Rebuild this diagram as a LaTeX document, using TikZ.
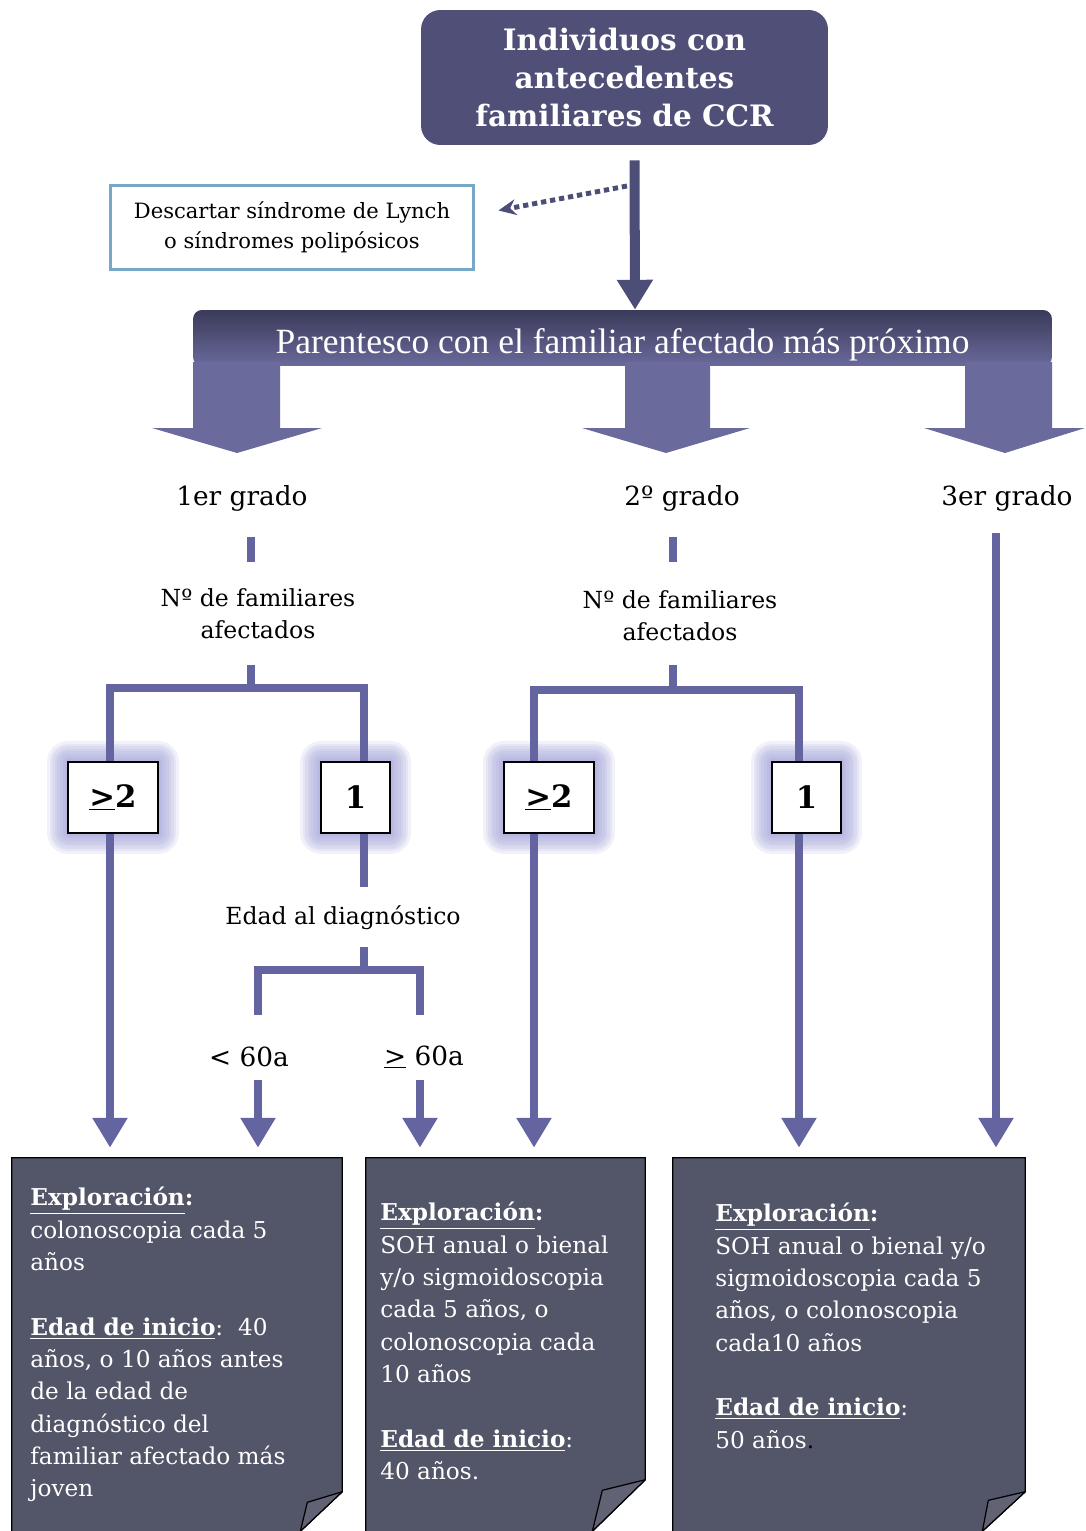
\documentclass[tikz,border=0pt]{standalone}
\usepackage{fontspec}
\setmainfont{DejaVu Serif}
\newfontfamily\bannerfont{Liberation Serif}
\usetikzlibrary{arrows.meta,calc}

\definecolor{titlec}{HTML}{4F4F77}
\definecolor{arrowc}{HTML}{4D4E78}
\definecolor{bannerdark}{HTML}{3A3A5A}
\definecolor{bannerlight}{HTML}{6A6A9C}
\definecolor{connc}{HTML}{6464A0}
\definecolor{glowc}{HTML}{9494D2}
\definecolor{rfillc}{HTML}{535568}
\definecolor{lynchc}{HTML}{78A8C8}

% folded-corner result sheet: node, fold offset from top, flap vertex, bottom offset
\newcommand\foldsheet[4]{%
  \fill[rfillc] (#1.north west) -- (#1.north east) -- ($(#1.north east)+(0,#2)$)
    -- ($(#1.south east)+(#4,0)$) -- (#1.south west) -- cycle;
  \draw[black, line width=0.7pt] (#1.south west) -- (#1.north west) -- (#1.north east)
    -- ($(#1.north east)+(0,#2)$) -- ($(#1.south east)+(#4,0)$);
  \filldraw[fill=rfillc!92!white, draw=black, line width=0.7pt, line join=round]
    ($(#1.north east)+(0,#2)$) -- ($(#1.south east)+(#3)$) -- ($(#1.south east)+(#4,0)$) -- cycle;}

\begin{document}
\begin{tikzpicture}[x=0.02cm, y=-0.02cm,
  titlebox/.style={fill=titlec, rounded corners=11pt, minimum width=8.14cm,
    minimum height=2.7cm, text=white, align=center, inner sep=0pt,
    font=\bfseries\fontsize{16.8}{21.5}\selectfont},
  lynchbox/.style={draw=lynchc, line width=1.7pt, fill=white, minimum width=7.28cm,
    minimum height=1.7cm, align=center, font=\fontsize{12}{17}\selectfont},
  bannerbox/.style={top color=bannerdark, bottom color=bannerlight, rounded corners=5pt,
    minimum width=17.18cm, minimum height=1.12cm, inner sep=0pt, text=white,
    font=\bannerfont\fontsize{20.2}{22}\selectfont},
  bigarrow/.style={fill=bannerlight},
  grado/.style={inner sep=0pt, font=\fontsize{15}{18}\selectfont},
  lbl/.style={inner sep=0pt, align=center, font=\fontsize{13.4}{18}\selectfont},
  glow/.style={preaction={draw=glowc, line width=#1, draw opacity=0.13, line join=round}},
  numbox/.style={draw=black, line width=0.6pt, fill=white, minimum height=1.42cm,
    inner sep=0pt, font=\bfseries\fontsize{17.5}{19}\selectfont,
    glow=24pt, glow=21pt, glow=18pt, glow=15pt, glow=12pt, glow=9pt, glow=6pt, glow=3pt},
  sheet/.style={draw=none, minimum height=7.46cm, inner sep=0pt},
  rtext/.style={anchor=north west, inner sep=0pt, align=left, text=white,
    font=\fontsize{13.2}{18.4}\selectfont},
  conn/.style={draw=connc, line width=5.1pt},
  arr/.style={draw=connc, line width=4.6pt, -{Triangle[width=19pt,length=17pt]},
    shorten >=5.7pt},
  mainarr/.style={draw=arrowc, line width=5.7pt, -{Triangle[width=19.5pt,length=17pt]}},
  dotarr/.style={draw=arrowc, line width=2.8pt, dash pattern=on 3pt off 2.2pt,
    -{Stealth[width=9pt,length=10pt]}}
]
\useasboundingbox (0,0) rectangle (1085,1531);

% ---- top of the chart
\node[titlebox] (top) at (624.5,77.5) {Individuos con\\antecedentes\\familiares de CCR};
\node[lynchbox] (lynch) at (292,227.5) {Descartar síndrome de Lynch\\o síndromes polipósicos};
\node[bannerbox] (banner) at (622.5,338)
  {\raisebox{-9pt}[0pt][0pt]{Parentesco con el familiar afectado más próximo}};

\draw[mainarr] ($(top.south)+(10,15)$) -- ($(banner.north)+(12.5,0)$);
\coordinate (d0) at (627,186);
\draw[dotarr] (d0) -- ($(lynch.east)+(23,-17)$);

% ---- three broad arrows hanging from the banner
\fill[bigarrow] (193,362) -- (280,362) -- (280,428) -- (322,428) -- (237,453)
  -- (152,428) -- (193,428) -- cycle;
\fill[bigarrow] (625,362) -- (710,362) -- (710,428) -- (750,428) -- (666,453)
  -- (582,428) -- (625,428) -- cycle;
\fill[bigarrow] (965,362) -- (1052,362) -- (1052,428) -- (1085,428) -- (1005,453)
  -- (924,428) -- (965,428) -- cycle;

% ---- labels
\node[grado] (g1) at (242,498) {1er grado};
\node[grado] (g2) at (682,498) {2º grado};
\node[grado] (g3) at (1007,498) {3er grado};
\node[lbl] (n1) at (258,614) {Nº de familiares\\afectados};
\node[lbl] (n2) at (680,616) {Nº de familiares\\afectados};

\node[numbox, minimum width=1.8cm] (b1a) at (113,797.5) {\raisebox{-2pt}{\underline{>}2}};
\node[numbox, minimum width=1.38cm] (b1b) at (355.5,797.5) {\raisebox{-2pt}{1}};
\node[numbox, minimum width=1.8cm] (b2a) at (549,797.5) {\raisebox{-2pt}{\underline{>}2}};
\node[numbox, minimum width=1.38cm] (b2b) at (806.5,797.5) {\raisebox{-2pt}{1}};

\node[lbl] (edad) at (343,918) {Edad al diagnóstico};
\node[grado] (lt) at (249,1057) {< 60a};
\node[grado] (ge) at (424,1057) {\underline{>} 60a};

% ---- result sheets
\node[sheet, minimum width=6.6cm] (r1) at (177,1344.5) {};
\node[sheet, minimum width=5.58cm] (r2) at (505.5,1344.5) {};
\node[sheet, minimum width=7.04cm] (r3) at (849,1344.5) {};
\foldsheet{r1}{334}{-35,-29}{-42}
\foldsheet{r2}{322}{-43,-41}{-53}
\foldsheet{r3}{334}{-37,-31}{-43}

\node[rtext] (t1) at (30,1187) {\underline{\textbf{Exploración}}\textbf{:}\\
  colonoscopia cada 5\\años\\[18.4pt]
  \underline{\textbf{Edad de inicio}}:\ \ 40\\
  años, o 10 años antes\\de la edad de\\diagnóstico del\\
  familiar afectado más\\joven};
\node[rtext] (t2) at (380,1202) {\underline{\textbf{Exploración}}\textbf{:}\\
  SOH anual o bienal\\y/o sigmoidoscopia\\cada 5 años, o\\
  colonoscopia cada\\10 años\\[18.4pt]
  \underline{\textbf{Edad de inicio}}:\\40 años.};
\node[rtext] (t3) at (715,1203) {\underline{\textbf{Exploración}}\textbf{:}\\
  SOH anual o bienal y/o\\sigmoidoscopia cada 5\\años, o colonoscopia\\
  cada10 años\\[18.4pt]
  \underline{\textbf{Edad de inicio}}:\\50 años{\color{black}.}};

% ---- junction points of the branching connectors
\coordinate (j1) at (251,688);
\coordinate (v1a) at (110,688);
\coordinate (v1b) at (364,688);
\coordinate (e0) at (364,970);
\coordinate (e1) at (258,970);
\coordinate (e2) at (420,970);
\coordinate (j2) at (673,690);
\coordinate (v2a) at (534,690);
\coordinate (v2b) at (799,690);
\coordinate (x3) at (996,533);

% first degree
\draw[conn] ($(g1 -| j1)+(0,39)$) -- ($(g1 -| j1)+(0,64)$);
\draw[conn] ($(n1 -| j1)+(0,51)$) -- (j1);
\draw[conn] (b1a.north -| v1a) -- (v1a) -- (v1b) -- (b1b.north -| v1b);
\draw[arr] (b1a.south -| v1a) -- (v1a |- r1.north);
\draw[conn] (b1b.south -| v1b) -- ($(edad -| v1b)+(0,-31)$);
\draw[conn] ($(edad -| e0)+(0,29)$) -- (e0);
\draw[conn] ($(lt -| e1)+(0,-42)$) -- (e1) -- (e2) -- ($(ge -| e2)+(0,-42)$);
\draw[arr] ($(lt -| e1)+(0,23)$) -- (e1 |- r1.north);
\draw[arr] ($(ge -| e2)+(0,23)$) -- (e2 |- r2.north);

% second degree
\draw[conn] ($(g2 -| j2)+(0,39)$) -- ($(g2 -| j2)+(0,64)$);
\draw[conn] ($(n2 -| j2)+(0,49)$) -- (j2);
\draw[conn] (b2a.north -| v2a) -- (v2a) -- (v2b) -- (b2b.north -| v2b);
\draw[arr] (b2a.south -| v2a) -- (v2a |- r2.north);
\draw[arr] (b2b.south -| v2b) -- (v2b |- r3.north);

% third degree
\draw[arr] (x3) -- (x3 |- r3.north);
\end{tikzpicture}
\end{document}
